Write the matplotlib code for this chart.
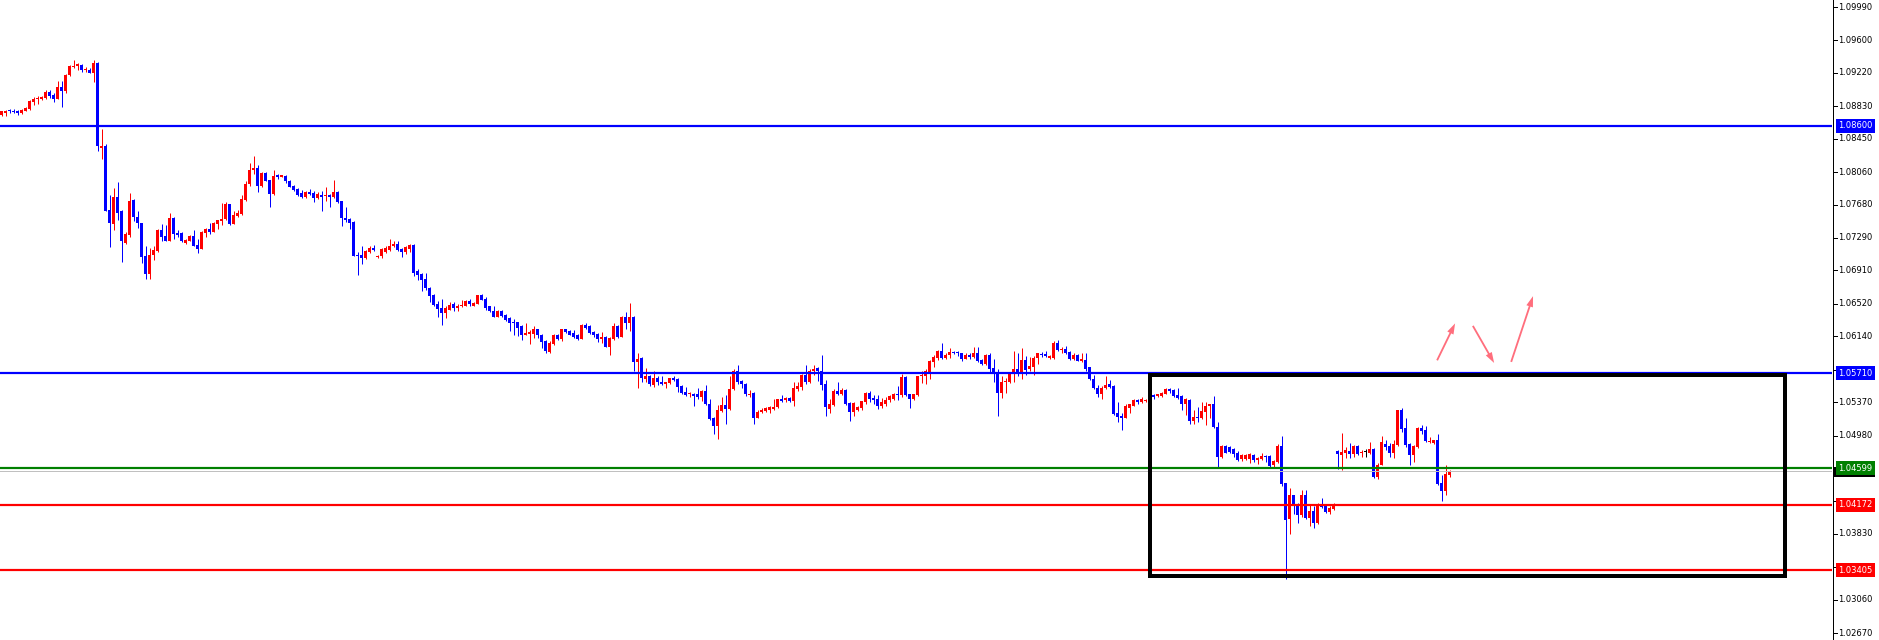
import matplotlib
matplotlib.use('Agg')
import matplotlib.pyplot as plt
import matplotlib.transforms as mtransforms
from matplotlib.patches import Rectangle, FancyArrowPatch
from matplotlib.lines import Line2D
import numpy as np

# ---------------- data ----------------
opens = [
1.0873,1.0875,1.0878,1.0878,1.0877,1.0875,1.0878,1.0880,1.0888,1.0891,
1.0891,1.0893,1.0900,1.0896,1.0892,1.0905,1.0901,1.0920,1.0929,1.0930,
1.0931,1.0925,1.0925,1.0922,1.0934,1.0834,1.0836,1.0762,1.0745,1.0777,
1.0760,1.0723,1.0732,1.0773,1.0754,1.0746,1.0708,1.0687,1.0709,1.0714,
1.0738,1.0731,1.0726,1.0752,1.0735,1.0735,1.0723,1.0726,1.0731,1.0721,
1.0716,1.0735,1.0739,1.0736,1.0745,1.0749,1.0751,1.0769,1.0745,1.0755,
1.0757,1.0773,1.0792,1.0809,1.0811,1.0790,1.0805,1.0797,1.0780,1.0803,
1.0800,1.0802,1.0796,1.0790,1.0786,1.0781,1.0777,1.0783,1.0781,1.0776,
1.0779,1.0778,1.0779,1.0777,1.0783,1.0772,1.0752,1.0751,1.0748,1.0709,
1.0709,1.0706,1.0712,1.0717,1.0707,1.0708,1.0712,1.0715,1.0719,1.0722,
1.0716,1.0713,1.0716,1.0721,1.0690,1.0687,1.0681,1.0671,1.0662,1.0652,
1.0647,1.0641,1.0645,1.0652,1.0647,1.0649,1.0649,1.0655,1.0649,1.0652,
1.0662,1.0658,1.0649,1.0643,1.0637,1.0644,1.0639,1.0635,1.0631,1.0631,
1.0626,1.0616,1.0617,1.0617,1.0622,1.0616,1.0608,1.0596,1.0605,1.0616,
1.0611,1.0622,1.0620,1.0618,1.0616,1.0611,1.0627,1.0626,1.0619,1.0617,
1.0611,1.0613,1.0602,1.0611,1.0626,1.0613,1.0637,1.0630,1.0637,1.0584,
1.0589,1.0564,1.0568,1.0557,1.0565,1.0561,1.0558,1.0559,1.0565,1.0564,
1.0556,1.0549,1.0546,1.0547,1.0546,1.0543,1.0550,1.0535,1.0519,1.0509,
1.0527,1.0534,1.0529,1.0552,1.0574,1.0562,1.0558,1.0545,1.0548,1.0519,
1.0525,1.0527,1.0528,1.0529,1.0531,1.0541,1.0539,1.0542,1.0538,1.0552,
1.0555,1.0569,1.0560,1.0574,1.0577,1.0574,1.0558,1.0529,1.0534,1.0550,
1.0546,1.0551,1.0536,1.0526,1.0528,1.0530,1.0537,1.0548,1.0542,1.0541,
1.0533,1.0535,1.0539,1.0541,1.0546,1.0545,1.0566,1.0546,1.0541,1.0545,
1.0567,1.0567,1.0572,1.0584,1.0589,1.0597,1.0589,1.0592,1.0596,1.0595,
1.0594,1.0588,1.0592,1.0590,1.0595,1.0586,1.0582,1.0592,1.0577,1.0571,
1.0548,1.0560,1.0561,1.0572,1.0576,1.0572,1.0586,1.0576,1.0578,1.0589,
1.0593,1.0593,1.0589,1.0589,1.0606,1.0598,1.0599,1.0596,1.0587,1.0592,
1.0585,1.0586,1.0578,1.0564,1.0554,1.0546,1.0553,1.0558,1.0556,1.0524,
1.0521,1.0519,1.0530,1.0533,1.0539,1.0537,1.0538,1.0539,1.0545,1.0544,
1.0544,1.0547,1.0552,1.0551,1.0545,1.0544,1.0535,1.0540,1.0515,1.0520,
1.0518,1.0526,1.0532,1.0535,1.0508,1.0473,1.0486,1.0485,1.0482,1.0478,
1.0470,1.0471,1.0471,1.0475,1.0469,1.0470,1.0474,1.0474,1.0463,1.0467,
1.0486,1.0442,1.0400,1.0428,1.0418,1.0405,1.0428,1.0402,1.0410,1.0396,
1.0417,1.0416,1.0409,1.0412,1.0480,1.0475,1.0478,1.0480,1.0476,1.0486,
1.0477,1.0479,1.0478,1.0482,1.0449,1.0463,1.0488,1.0486,1.0478,1.0487,
1.0528,1.0507,1.0488,1.0475,1.0484,1.0507,1.0504,1.0490,1.0489,1.0493,
1.0442,1.0433,1.0452]

highs = [
1.0877,1.0879,1.0880,1.0880,1.0879,1.0880,1.0882,1.0890,1.0894,1.0895,
1.0895,1.0902,1.0902,1.0898,1.0912,1.0912,1.0921,1.0931,1.0937,1.0933,
1.0932,1.0929,1.0928,1.0937,1.0935,1.0856,1.0839,1.0779,1.0787,1.0794,
1.0762,1.0736,1.0781,1.0774,1.0761,1.0747,1.0719,1.0717,1.0719,1.0739,
1.0745,1.0744,1.0758,1.0754,1.0738,1.0736,1.0728,1.0733,1.0738,1.0728,
1.0737,1.0741,1.0746,1.0748,1.0750,1.0770,1.0771,1.0769,1.0761,1.0762,
1.0779,1.0795,1.0817,1.0825,1.0814,1.0806,1.0806,1.0797,1.0809,1.0804,
1.0803,1.0803,1.0797,1.0791,1.0787,1.0785,1.0784,1.0786,1.0784,1.0783,
1.0784,1.0789,1.0780,1.0797,1.0784,1.0772,1.0765,1.0752,1.0749,1.0712,
1.0719,1.0715,1.0719,1.0721,1.0709,1.0717,1.0719,1.0728,1.0725,1.0726,
1.0717,1.0719,1.0722,1.0722,1.0693,1.0688,1.0688,1.0672,1.0664,1.0655,
1.0658,1.0649,1.0654,1.0654,1.0652,1.0656,1.0656,1.0658,1.0654,1.0662,
1.0663,1.0660,1.0650,1.0649,1.0645,1.0645,1.0640,1.0637,1.0634,1.0631,
1.0627,1.0629,1.0621,1.0626,1.0623,1.0617,1.0610,1.0608,1.0617,1.0617,
1.0623,1.0623,1.0621,1.0621,1.0617,1.0628,1.0629,1.0627,1.0620,1.0618,
1.0619,1.0614,1.0613,1.0629,1.0627,1.0638,1.0642,1.0653,1.0638,1.0594,
1.0590,1.0577,1.0569,1.0574,1.0567,1.0567,1.0560,1.0565,1.0567,1.0565,
1.0557,1.0555,1.0549,1.0548,1.0554,1.0551,1.0557,1.0541,1.0520,1.0534,
1.0543,1.0545,1.0567,1.0576,1.0581,1.0563,1.0559,1.0551,1.0549,1.0528,
1.0530,1.0531,1.0532,1.0541,1.0541,1.0545,1.0543,1.0543,1.0561,1.0561,
1.0570,1.0580,1.0576,1.0580,1.0578,1.0592,1.0563,1.0541,1.0552,1.0560,
1.0553,1.0552,1.0537,1.0537,1.0532,1.0538,1.0549,1.0550,1.0545,1.0545,
1.0542,1.0543,1.0545,1.0548,1.0556,1.0570,1.0567,1.0547,1.0547,1.0568,
1.0573,1.0576,1.0586,1.0592,1.0598,1.0606,1.0594,1.0600,1.0597,1.0597,
1.0595,1.0595,1.0594,1.0601,1.0601,1.0587,1.0593,1.0595,1.0587,1.0576,
1.0567,1.0565,1.0571,1.0597,1.0594,1.0600,1.0591,1.0590,1.0591,1.0595,
1.0596,1.0597,1.0592,1.0608,1.0610,1.0602,1.0603,1.0597,1.0594,1.0593,
1.0595,1.0595,1.0578,1.0569,1.0557,1.0556,1.0567,1.0563,1.0557,1.0537,
1.0524,1.0535,1.0535,1.0541,1.0541,1.0543,1.0541,1.0542,1.0547,1.0547,
1.0549,1.0553,1.0554,1.0552,1.0553,1.0545,1.0542,1.0541,1.0528,1.0531,
1.0537,1.0537,1.0535,1.0544,1.0514,1.0487,1.0487,1.0486,1.0483,1.0480,
1.0476,1.0476,1.0478,1.0476,1.0473,1.0477,1.0475,1.0475,1.0469,1.0488,
1.0497,1.0443,1.0437,1.0429,1.0419,1.0434,1.0434,1.0418,1.0415,1.0419,
1.0425,1.0417,1.0415,1.0419,1.0481,1.0501,1.0485,1.0489,1.0487,1.0487,
1.0481,1.0482,1.0490,1.0483,1.0466,1.0497,1.0493,1.0489,1.0493,1.0528,
1.0530,1.0518,1.0489,1.0487,1.0508,1.0510,1.0509,1.0496,1.0493,1.0500,
1.0452,1.0463,1.0458]

lows = [
1.0871,1.0872,1.0875,1.0875,1.0873,1.0874,1.0877,1.0879,1.0884,1.0886,
1.0890,1.0892,1.0893,1.0888,1.0891,1.0882,1.0899,1.0918,1.0928,1.0925,
1.0923,1.0923,1.0922,1.0911,1.0831,1.0821,1.0761,1.0718,1.0738,1.0750,
1.0701,1.0722,1.0730,1.0749,1.0741,1.0700,1.0681,1.0681,1.0703,1.0713,
1.0725,1.0725,1.0725,1.0728,1.0730,1.0724,1.0722,1.0725,1.0719,1.0711,
1.0716,1.0730,1.0734,1.0736,1.0740,1.0744,1.0750,1.0744,1.0745,1.0754,
1.0756,1.0772,1.0790,1.0804,1.0783,1.0789,1.0795,1.0765,1.0779,1.0798,
1.0800,1.0793,1.0788,1.0784,1.0778,1.0776,1.0776,1.0779,1.0771,1.0775,
1.0760,1.0772,1.0765,1.0776,1.0770,1.0743,1.0748,1.0739,1.0708,1.0686,
1.0699,1.0704,1.0711,1.0714,1.0706,1.0706,1.0711,1.0714,1.0718,1.0714,
1.0707,1.0710,1.0712,1.0684,1.0680,1.0667,1.0668,1.0654,1.0650,1.0636,
1.0627,1.0635,1.0645,1.0644,1.0643,1.0648,1.0649,1.0650,1.0649,1.0652,
1.0656,1.0645,1.0642,1.0636,1.0636,1.0637,1.0632,1.0620,1.0615,1.0614,
1.0610,1.0615,1.0605,1.0612,1.0612,1.0600,1.0595,1.0594,1.0604,1.0610,
1.0608,1.0618,1.0615,1.0612,1.0610,1.0611,1.0623,1.0617,1.0613,1.0607,
1.0606,1.0601,1.0592,1.0610,1.0612,1.0613,1.0622,1.0620,1.0574,1.0554,
1.0560,1.0560,1.0556,1.0555,1.0557,1.0557,1.0554,1.0558,1.0562,1.0549,
1.0546,1.0544,1.0543,1.0533,1.0541,1.0538,1.0534,1.0516,1.0500,1.0494,
1.0526,1.0512,1.0528,1.0551,1.0558,1.0554,1.0544,1.0543,1.0511,1.0518,
1.0524,1.0525,1.0524,1.0528,1.0530,1.0537,1.0537,1.0537,1.0532,1.0550,
1.0551,1.0558,1.0559,1.0569,1.0562,1.0551,1.0521,1.0524,1.0532,1.0545,
1.0545,1.0534,1.0515,1.0521,1.0527,1.0528,1.0535,1.0537,1.0535,1.0529,
1.0530,1.0533,1.0537,1.0539,1.0539,1.0543,1.0544,1.0530,1.0539,1.0544,
1.0559,1.0558,1.0564,1.0578,1.0586,1.0587,1.0588,1.0589,1.0593,1.0591,
1.0585,1.0587,1.0588,1.0589,1.0584,1.0581,1.0581,1.0572,1.0561,1.0521,
1.0542,1.0548,1.0559,1.0561,1.0567,1.0564,1.0569,1.0574,1.0569,1.0582,
1.0590,1.0590,1.0588,1.0588,1.0597,1.0594,1.0593,1.0586,1.0586,1.0585,
1.0584,1.0574,1.0563,1.0552,1.0543,1.0541,1.0552,1.0553,1.0522,1.0514,
1.0504,1.0518,1.0524,1.0532,1.0535,1.0536,1.0537,1.0538,1.0541,1.0543,
1.0543,1.0546,1.0548,1.0543,1.0541,1.0528,1.0522,1.0511,1.0511,1.0514,
1.0517,1.0510,1.0519,1.0507,1.0461,1.0472,1.0477,1.0477,1.0473,1.0468,
1.0468,1.0469,1.0466,1.0467,1.0465,1.0469,1.0467,1.0461,1.0461,1.0466,
1.0439,1.0330,1.0383,1.0406,1.0396,1.0403,1.0400,1.0392,1.0390,1.0395,
1.0413,1.0407,1.0406,1.0411,1.0459,1.0458,1.0472,1.0472,1.0473,1.0475,
1.0473,1.0473,1.0476,1.0448,1.0447,1.0463,1.0481,1.0473,1.0472,1.0486,
1.0502,1.0485,1.0464,1.0467,1.0483,1.0500,1.0490,1.0489,1.0488,1.0440,
1.0422,1.0428,1.0450]

closes = [
1.0877,1.0878,1.0877,1.0876,1.0875,1.0879,1.0881,1.0889,1.0892,1.0892,
1.0894,1.0900,1.0895,1.0892,1.0905,1.0901,1.0920,1.0930,1.0930,1.0932,
1.0925,1.0927,1.0922,1.0934,1.0836,1.0837,1.0761,1.0746,1.0777,1.0758,
1.0725,1.0734,1.0772,1.0754,1.0746,1.0707,1.0687,1.0709,1.0715,1.0738,
1.0730,1.0726,1.0752,1.0734,1.0733,1.0725,1.0727,1.0731,1.0720,1.0716,
1.0736,1.0739,1.0736,1.0746,1.0750,1.0751,1.0769,1.0745,1.0756,1.0758,
1.0774,1.0792,1.0809,1.0811,1.0790,1.0805,1.0796,1.0780,1.0802,1.0800,
1.0803,1.0795,1.0789,1.0785,1.0779,1.0777,1.0783,1.0780,1.0776,1.0780,
1.0777,1.0779,1.0777,1.0783,1.0771,1.0752,1.0750,1.0747,1.0708,1.0708,
1.0706,1.0714,1.0717,1.0715,1.0708,1.0716,1.0717,1.0720,1.0722,1.0715,
1.0713,1.0718,1.0721,1.0688,1.0686,1.0680,1.0670,1.0661,1.0651,1.0646,
1.0641,1.0647,1.0651,1.0647,1.0649,1.0650,1.0655,1.0652,1.0653,1.0662,
1.0657,1.0647,1.0643,1.0637,1.0644,1.0638,1.0633,1.0630,1.0629,1.0624,
1.0616,1.0618,1.0619,1.0622,1.0616,1.0607,1.0597,1.0606,1.0616,1.0611,
1.0622,1.0619,1.0616,1.0613,1.0611,1.0627,1.0624,1.0618,1.0616,1.0611,
1.0613,1.0602,1.0612,1.0626,1.0613,1.0637,1.0630,1.0637,1.0584,1.0587,
1.0565,1.0568,1.0558,1.0565,1.0560,1.0558,1.0560,1.0565,1.0563,1.0555,
1.0548,1.0545,1.0548,1.0544,1.0543,1.0550,1.0535,1.0517,1.0509,1.0528,
1.0534,1.0529,1.0552,1.0574,1.0560,1.0558,1.0546,1.0547,1.0519,1.0526,
1.0528,1.0530,1.0531,1.0531,1.0541,1.0538,1.0542,1.0538,1.0554,1.0556,
1.0569,1.0560,1.0574,1.0576,1.0574,1.0557,1.0531,1.0535,1.0550,1.0546,
1.0551,1.0535,1.0526,1.0536,1.0531,1.0538,1.0548,1.0541,1.0539,1.0533,
1.0537,1.0539,1.0544,1.0546,1.0545,1.0566,1.0545,1.0541,1.0546,1.0567,
1.0569,1.0574,1.0585,1.0590,1.0597,1.0589,1.0592,1.0596,1.0595,1.0594,
1.0587,1.0592,1.0590,1.0595,1.0585,1.0582,1.0592,1.0576,1.0571,1.0548,
1.0561,1.0562,1.0570,1.0576,1.0572,1.0586,1.0575,1.0579,1.0589,1.0594,
1.0592,1.0591,1.0591,1.0606,1.0598,1.0599,1.0594,1.0587,1.0592,1.0585,
1.0587,1.0576,1.0564,1.0553,1.0546,1.0554,1.0557,1.0555,1.0523,1.0520,
1.0519,1.0532,1.0535,1.0539,1.0537,1.0541,1.0540,1.0541,1.0543,1.0546,
1.0548,1.0552,1.0550,1.0544,1.0542,1.0535,1.0541,1.0515,1.0520,1.0518,
1.0527,1.0532,1.0535,1.0508,1.0473,1.0486,1.0478,1.0479,1.0476,1.0469,
1.0475,1.0475,1.0476,1.0469,1.0472,1.0474,1.0473,1.0462,1.0468,1.0486,
1.0441,1.0399,1.0428,1.0415,1.0405,1.0428,1.0401,1.0410,1.0396,1.0418,
1.0414,1.0409,1.0413,1.0417,1.0476,1.0479,1.0481,1.0476,1.0486,1.0476,
1.0479,1.0479,1.0482,1.0449,1.0464,1.0490,1.0484,1.0478,1.0488,1.0528,
1.0506,1.0487,1.0475,1.0486,1.0507,1.0503,1.0491,1.0491,1.0493,1.0441,
1.0433,1.0453,1.0457]

# horizontal levels drawn on the chart
level_prices = [1.08600, 1.05710, 1.04599, 1.04172, 1.03405]
level_labels = ['1.08600', '1.05710', '1.04599', '1.04172', '1.03405']
level_colors = ['#0000ff', '#0000ff', '#008000', '#ff0000', '#ff0000']

# price scale labels (those hidden behind the level labels are covered)
tick_values = [1.09990, 1.09600, 1.09220, 1.08830, 1.08450, 1.08060, 1.07680,
               1.07290, 1.06910, 1.06520, 1.06140, 1.05750, 1.05370, 1.04980,
               1.04600, 1.04210, 1.03830, 1.03440, 1.03060, 1.02670]

# annotation objects (bar index / price anchors)
box_bars = (287.2, 445.9)
box_prices = (1.0334, 1.0569)
arrow_anchors = [((358.6, 1.0583), (363.7, 1.0632)),
                 ((367.5, 1.0629), (373.5, 1.0580)),
                 ((377.2, 1.0581), (383.1, 1.0664))]

# ---------------- figure ----------------
W, H = 1879, 640
AX_W = 1832
fig = plt.figure(figsize=(W / 100, H / 100), dpi=100)
fig.patch.set_facecolor('white')
ax = fig.add_axes([0, 0, AX_W / W, 1])
ax.set_xlim(-0.375, AX_W / 4 - 0.375)
ax.set_ylim(1.02589, 1.10072)
ax.axis('off')

n = min(len(opens), len(highs), len(lows), len(closes))
o = np.array(opens[:n]); h = np.array(highs[:n])
l = np.array(lows[:n]); c = np.array(closes[:n])
h = np.maximum(h, np.maximum(o, c))
l = np.minimum(l, np.minimum(o, c))
x = np.arange(n)
cols = np.where(c > o, '#ff0000', np.where(c < o, '#0000ff', '#000000'))

PX = 0.72  # one pixel in points
ax.vlines(x, l, h, colors=cols, linewidth=1.0 * PX, zorder=2)
body_h = np.maximum(np.abs(c - o), 0.00012)
ax.bar(x, body_h, bottom=np.minimum(o, c), width=0.75, color=cols,
       linewidth=0, zorder=3)

# current price line (light grey)
last_price = closes[n - 1]
ax.axhline(last_price, color='#c0c0c0', linewidth=1.0 * PX, zorder=3.5)

# level lines
for p, col in zip(level_prices, level_colors):
    ax.axhline(p, color=col, linewidth=2.2 * PX, zorder=4)

# black rectangle
ax.add_patch(Rectangle((box_bars[0], box_prices[0]), box_bars[1] - box_bars[0],
                       box_prices[1] - box_prices[0], fill=False,
                       edgecolor='black', linewidth=4 * PX, zorder=5,
                       joinstyle='miter'))

# hand-drawn red arrows
for (p0, p1) in arrow_anchors:
    arr = FancyArrowPatch(p0, p1,
                          arrowstyle='simple,head_length=0.7,head_width=0.45,tail_width=0.12',
                          mutation_scale=11, color='#ff4a5c', alpha=0.8,
                          linewidth=0, zorder=6)
    ax.add_patch(arr)

# ---------------- right price scale ----------------
fig.add_artist(Line2D([(AX_W + 0.5) / W] * 2, [0, 1], color='black',
                      linewidth=1.0 * PX, transform=fig.transFigure))
trans = mtransforms.blended_transform_factory(fig.transFigure, ax.transData)
ppx = (1.10072 - 1.02589) / H  # price per pixel
for v in tick_values:
    ax.plot([(AX_W + 0.5) / W, (AX_W + 5) / W], [v, v], color='black',
            linewidth=1.0 * PX, transform=trans, clip_on=False, zorder=7)
    covered = any(abs(v - p) < 6 * ppx for p in level_prices)
    if not covered:
        ax.text((AX_W + 6.5) / W, v, f'{v:.5f}', transform=trans, ha='left',
                va='center', fontsize=6, color='black', family='DejaVu Sans',
                clip_on=False, zorder=7)

# current price marker (black box mostly hidden behind the green label)
ax.add_patch(Rectangle(((AX_W + 2) / W, last_price - 6 * ppx), 41 / W, 10 * ppx,
                       transform=trans, facecolor='black', edgecolor='none',
                       clip_on=False, zorder=8))

for p, lab, col in zip(level_prices, level_labels, level_colors):
    ax.text((AX_W + 6.5) / W, p, lab, transform=trans, ha='left', va='center',
            fontsize=6, color='white', family='DejaVu Sans', clip_on=False,
            zorder=9,
            bbox=dict(boxstyle='square,pad=0.3', facecolor=col, edgecolor='none'))

fig.savefig('out.png', dpi=100, facecolor='white')
